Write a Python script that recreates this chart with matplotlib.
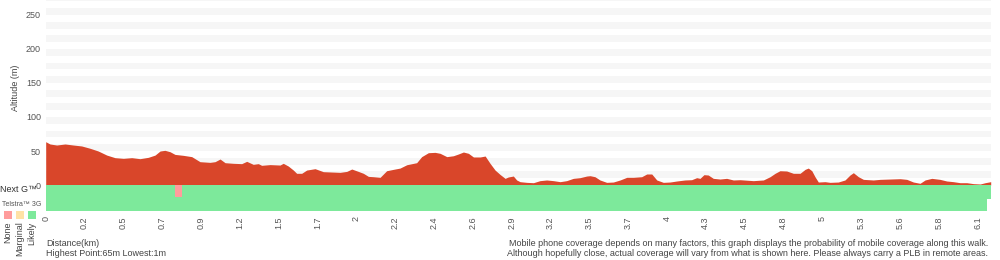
import matplotlib
matplotlib.use("Agg")
import matplotlib.pyplot as plt

plt.rcParams["font.family"] = ["Liberation Sans", "DejaVu Sans"]

# elevation profile (distance km, altitude m)
dist_km = [0.0, 0.028, 0.072, 0.127, 0.181, 0.236, 0.291, 0.345, 0.401, 0.455,
           0.510, 0.565, 0.619, 0.674, 0.718, 0.751, 0.783, 0.816, 0.849, 0.904,
           0.959, 1.013, 1.079, 1.112, 1.145, 1.178, 1.232, 1.287, 1.320, 1.363,
           1.396, 1.418, 1.473, 1.539, 1.560, 1.593, 1.626, 1.648, 1.681, 1.714,
           1.769, 1.823, 1.878, 1.933, 1.977, 2.010, 2.053, 2.086, 2.119, 2.152,
           2.196, 2.239, 2.283, 2.327, 2.371, 2.436, 2.469, 2.513, 2.557, 2.590,
           2.634, 2.677, 2.710, 2.743, 2.776, 2.809, 2.853, 2.886, 2.918, 2.951,
           2.984, 3.017, 3.038, 3.071, 3.093, 3.115, 3.159, 3.203, 3.246, 3.290,
           3.334, 3.378, 3.421, 3.465, 3.509, 3.553, 3.575, 3.607, 3.640, 3.684,
           3.728, 3.772, 3.816, 3.859, 3.914, 3.947, 3.980, 4.013, 4.056, 4.100,
           4.144, 4.198, 4.242, 4.275, 4.297, 4.323, 4.351, 4.384, 4.428, 4.472,
           4.516, 4.560, 4.647, 4.713, 4.757, 4.790, 4.822, 4.866, 4.910, 4.954,
           4.987, 5.008, 5.031, 5.052, 5.074, 5.118, 5.151, 5.205, 5.249, 5.282,
           5.304, 5.337, 5.370, 5.435, 5.479, 5.545, 5.611, 5.655, 5.698, 5.742,
           5.775, 5.819, 5.873, 5.917, 5.961, 6.005, 6.049, 6.093, 6.137, 6.170,
           6.206]
alt_m = [63.7, 60.3, 58.8, 60.3, 58.8, 57.4, 54.0, 50.0, 44.0, 40.2,
         39.2, 40.2, 38.7, 40.7, 44.0, 50.0, 51.0, 49.0, 45.0, 43.6,
         41.7, 34.3, 33.3, 34.3, 38.2, 32.8, 31.9, 31.4, 34.8, 30.4,
         31.4, 29.0, 30.0, 29.4, 31.9, 27.9, 22.0, 17.2, 17.2, 22.0,
         24.0, 19.6, 19.1, 18.6, 20.0, 23.5, 20.0, 17.2, 12.7, 12.2,
         11.3, 21.0, 23.0, 24.9, 29.8, 32.8, 41.7, 47.5, 48.0, 46.6,
         41.7, 43.0, 45.6, 48.5, 46.6, 41.2, 41.2, 42.6, 31.9, 22.0,
         15.5, 9.8, 11.8, 13.2, 7.4, 4.9, 3.9, 3.4, 6.4, 7.4,
         6.4, 4.9, 6.4, 9.8, 10.8, 13.2, 13.7, 12.2, 7.4, 3.9,
         4.4, 7.4, 11.3, 11.3, 12.2, 16.2, 16.2, 7.4, 3.9, 4.4,
         5.9, 7.4, 7.8, 10.8, 9.8, 15.2, 14.7, 9.8, 8.8, 9.8,
         7.4, 7.8, 6.4, 7.4, 12.2, 17.2, 21.0, 20.6, 17.2, 17.2,
         23.0, 24.9, 21.0, 12.2, 4.4, 4.9, 3.9, 4.4, 7.4, 14.7,
         18.1, 12.2, 8.3, 7.4, 8.3, 8.8, 9.3, 8.3, 4.4, 2.5,
         7.4, 9.8, 8.3, 5.9, 4.9, 3.4, 3.4, 2.0, 1.5, 3.4,
         4.9]

tick_labels = ["0", "0.2", "0.5", "0.7", "0.9", "1.2", "1.5", "1.7", "2", "2.2",
               "2.4", "2.6", "2.9", "3.2", "3.5", "3.7", "4", "4.3", "4.5", "4.8",
               "5", "5.3", "5.6", "5.8", "6.1"]
tick_step_km = 0.255

# coverage segments: (start km, end km, status)
nextg_cov = [(0.0, 0.85, "Likely"), (0.85, 0.896, "None"), (0.896, 6.206, "Likely")]
telstra3g_cov = [(0.0, 6.18, "Likely")]

cov_colors = {"None": "#ff9c9c", "Marginal": "#ffe2a6", "Likely": "#7de99b"}
RED = "#d9462a"

fig = plt.figure(figsize=(10, 2.6), dpi=100)
ax = fig.add_axes([0.0457, 1 - 211.2 / 260, 0.945, 211.2 / 260])
ax.set_xlim(0, 6.206)
ax.set_ylim(-38.5, 272)

# alternating background bands
for lo in range(10, 280, 20):
    ax.axhspan(lo, lo + 10, color="#f6f6f6", lw=0, zorder=0)

ax.fill_between(dist_km, 0, alt_m, color=RED, lw=0, zorder=2)

# Next G row, then the 3G row under it, then non-green Next G cells on top
for s, e, st in nextg_cov:
    if st == "Likely":
        ax.broken_barh([(s, e - s)], (-20, 20), color=cov_colors[st], lw=0, zorder=3)
for s, e, st in telstra3g_cov:
    ax.broken_barh([(s, e - s)], (-38.5, 21), color=cov_colors[st], lw=0, zorder=4)
for s, e, st in nextg_cov:
    if st != "Likely":
        ax.broken_barh([(s, e - s)], (-17.5, 17.5), color=cov_colors[st], lw=0, zorder=5)

ax.set_yticks([0, 50, 100, 150, 200, 250])
ax.set_xticks([i * tick_step_km for i in range(len(tick_labels))])
ax.set_xticklabels(tick_labels, rotation=90)
ax.tick_params(length=0, labelsize=6.5, labelcolor="#555555")
ax.tick_params(axis="y", pad=3.5)
ax.tick_params(axis="x", pad=3.5)
for sp in ax.spines.values():
    sp.set_visible(False)

fig.text(0.016, 1 - 88 / 260, "Altitude (m)", rotation=90, ha="center", va="center",
         fontsize=6.5, color="#444444")
fig.text(0.0375, 1 - 189 / 260, "Next G\u2122", ha="right", va="center",
         fontsize=6.5, color="#333333")
fig.text(0.002, 1 - 204 / 260, "Telstra\u2122 3G", ha="left", va="center",
         fontsize=5, color="#555555")

for i, st in enumerate(["None", "Marginal", "Likely"]):
    cx = 8 + 12 * i
    fig.patches.append(plt.Rectangle(((cx - 4.3) / 1000, 1 - 218.5 / 260), 8.6 / 1000,
                                     7.5 / 260, transform=fig.transFigure,
                                     color=cov_colors[st], lw=0))
    fig.text(cx / 1000, 1 - 221.5 / 260, st, rotation=90, ha="center", va="top",
             fontsize=6.5, color="#444444")

fig.text(0.046, 1 - 243 / 260, "Distance(km)", ha="left", va="center",
         fontsize=6.5, color="#444444")
fig.text(0.046, 1 - 253 / 260, "Highest Point:65m Lowest:1m", ha="left", va="center",
         fontsize=6.5, color="#444444")
fig.text(0.988, 1 - 243 / 260,
         "Mobile phone coverage depends on many factors, this graph displays the "
         "probability of mobile coverage along this walk.",
         ha="right", va="center", fontsize=6.5, color="#444444")
fig.text(0.988, 1 - 253 / 260,
         "Although hopefully close, actual coverage will vary from what is shown here. "
         "Please always carry a PLB in remote areas.",
         ha="right", va="center", fontsize=6.5, color="#444444")

fig.savefig("out.png", dpi=100)
